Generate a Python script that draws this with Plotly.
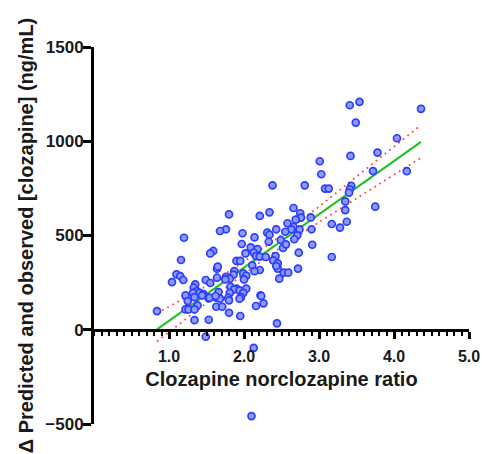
import plotly.graph_objects as go

# Scatter data
ratio = [3.54, 3.41, 4.36, 3.49, 4.04, 3.78, 3.42, 3.01, 3.72, 4.17,
         3.03, 2.38, 2.81, 3.43, 3.08, 3.13, 3.41, 3.40, 3.35, 3.75,
         2.66, 3.35, 2.34, 2.75, 1.80, 2.21, 2.89, 2.76, 2.69, 3.37,
         2.58, 3.17, 2.66, 3.28, 1.76, 2.43, 2.63, 2.74, 2.90, 1.68,
         2.55, 2.31, 1.98, 2.34, 2.71, 2.14, 1.20, 2.67, 2.49, 2.33,
         1.97, 2.91, 2.09, 2.52, 2.18, 1.59, 2.13, 2.73, 2.02, 1.55,
         2.16, 2.42, 2.21, 2.29, 3.17, 1.16, 2.39, 1.90, 1.95, 2.45,
         2.11, 1.64, 2.45, 2.72, 2.21, 1.87, 2.14, 2.53, 2.59, 1.99,
         1.10, 1.86, 2.03, 1.15, 1.76, 1.64, 2.47, 1.81, 2.00, 1.19,
         1.49, 1.04, 1.55, 1.35, 1.82, 1.33, 1.90, 2.03, 1.87, 1.94,
         1.37, 1.66, 1.32, 1.41, 1.81, 1.99, 1.46, 1.22, 1.44, 2.22,
         2.23, 1.34, 1.96, 1.63, 1.79, 1.53, 1.68, 1.94, 1.80, 1.25,
         2.26, 1.38, 2.16, 1.63, 1.71, 1.22, 1.26, 1.34, 0.84, 1.80,
         1.95, 1.53, 1.34, 2.44, 1.49, 2.13, 2.10, 2.56, 2.43, 1.65,
         1.54, 1.62, 1.75]
delta = [1209, 1191, 1172, 1099, 1016, 940, 922, 894, 842, 841,
         825, 766, 766, 763, 749, 749, 745, 727, 681, 653,
         646, 635, 623, 618, 612, 604, 596, 595, 584, 573,
         565, 561, 545, 542, 533, 533, 533, 533, 533, 524,
         520, 515, 512, 504, 501, 490, 488, 480, 476, 467,
         455, 451, 437, 434, 428, 418, 409, 409, 405, 405,
         391, 391, 388, 386, 386, 370, 368, 365, 365, 352,
         342, 324, 324, 324, 317, 311, 311, 303, 303, 299,
         294, 292, 287, 285, 281, 276, 271, 271, 267, 264,
         264, 253, 248, 241, 228, 223, 218, 218, 214, 209,
         205, 200, 196, 196, 196, 196, 189, 182, 182, 182,
         179, 173, 173, 170, 170, 166, 165, 165, 156, 152,
         140, 129, 126, 122, 122, 108, 108, 108, 99, 90,
         73, 53, 51, 34, -37, -96, -458, 453, 338, 335,
         170, 179, 267]

# Regression line and its confidence band
fit_x = [0.84, 4.36]
fit_y = [2, 997]
band_x = [0.84, 1.5, 2.0, 2.5, 3.0, 3.5, 4.36]
band_upper = [88, 232, 361, 502, 653, 811, 1086]
band_lower = [-62, 144, 297, 440, 571, 697, 912]

x_ticks = [1, 2, 3, 4, 5]
x_tick_labels = ["1.0", "2.0", "3.0", "4.0", "5.0"]
y_ticks = [-500, 0, 500, 1000, 1500]

FONT = "Liberation Sans, Arial, sans-serif"

fig = go.Figure()
for yb in (band_upper, band_lower):
    fig.add_trace(go.Scatter(x=band_x, y=yb, mode="lines",
                             line=dict(color="#ff4a4a", width=1.8, dash="1.8px,4px"),
                             hoverinfo="skip", showlegend=False))
fig.add_trace(go.Scatter(x=fit_x, y=fit_y, mode="lines",
                         line=dict(color="#1fbf1f", width=2),
                         showlegend=False))
fig.add_trace(go.Scatter(x=ratio, y=delta, mode="markers",
                         marker=dict(size=7, color="#8e9aff",
                                     line=dict(color="#2b3dff", width=1.7)),
                         showlegend=False))

fig.update_layout(
    width=482, height=454,
    margin=dict(l=94, r=13, t=47, b=30),
    plot_bgcolor="white", paper_bgcolor="white",
    font=dict(family=FONT, color="#111"),
    xaxis=dict(
        range=[0, 5], anchor="free", position=0.25, automargin=False,
        showline=True, linewidth=3, linecolor="black",
        ticks="outside", ticklen=7, tickwidth=3, tickcolor="black",
        tickvals=x_ticks, ticktext=x_tick_labels, ticklabelstandoff=4,
        tickfont=dict(family=FONT, size=16, color="#1a1a1a", weight="bold"),
        minor=dict(ticks="outside", ticklen=4, tickwidth=2, tickcolor="black",
                   tick0=0, dtick=0.1),
        showgrid=False, zeroline=False,
        title=dict(text="Clozapine norclozapine ratio", standoff=8,
                   font=dict(family=FONT, size=20, color="#1a1a1a", weight="bold")),
    ),
    yaxis=dict(
        range=[-500, 1500], automargin=False,
        showline=True, linewidth=3, linecolor="black",
        ticks="outside", ticklen=8, tickwidth=3, tickcolor="black",
        tickvals=y_ticks, ticklabelstandoff=-4,
        tickfont=dict(family=FONT, size=17, color="#1a1a1a", weight="bold"),
        showgrid=False, zeroline=False,
        title=dict(text="Δ Predicted and observed [clozapine] (ng/mL)", standoff=7,
                   font=dict(family=FONT, size=20, color="#1a1a1a", weight="bold")),
    ),
)

fig.write_html("out.html", config={"displayModeBar": False},
               post_script="document.body.style.margin='0px';")
